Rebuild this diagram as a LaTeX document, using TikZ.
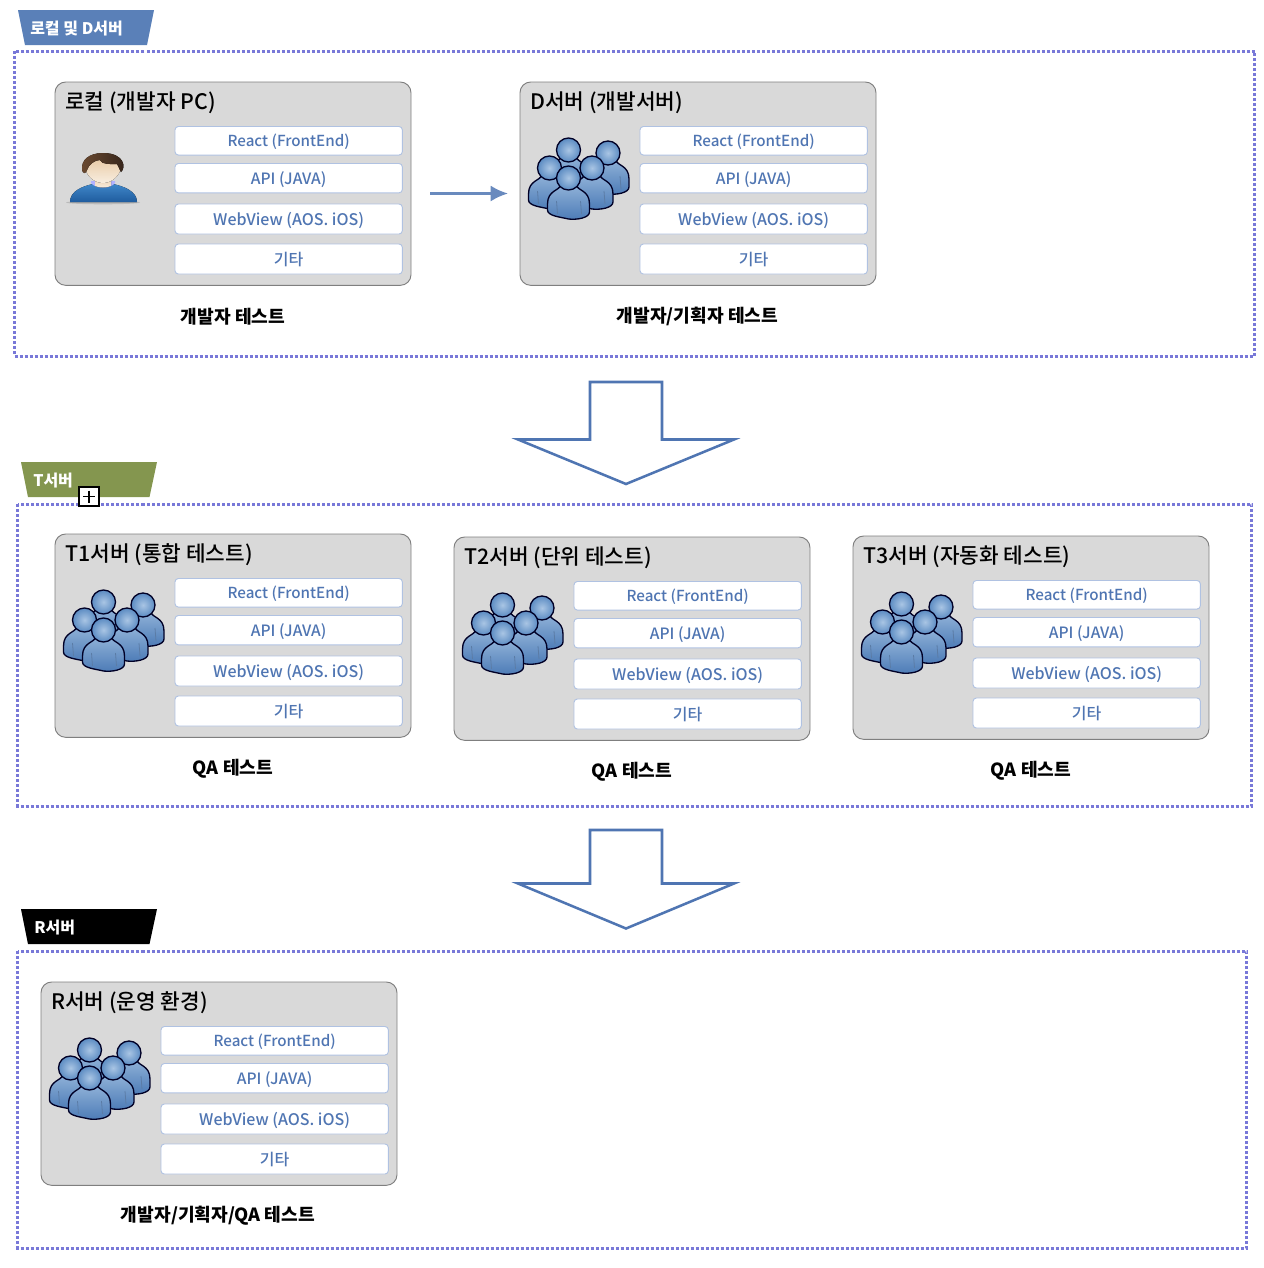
\documentclass[tikz,border=0pt]{standalone}
\usepackage{fontspec}
\usetikzlibrary{arrows.meta}
\setmainfont{Noto Sans CJK KR}
\newfontfamily\medfont{Noto Sans CJK KR Medium}
\definecolor{linkblue}{HTML}{4F75B2}
\definecolor{tabblue}{HTML}{5A80B8}
\definecolor{tabgreen}{HTML}{84964F}
\definecolor{framedot}{HTML}{7878D8}
\definecolor{boxgray}{HTML}{D9D9D9}
\definecolor{boxedge}{HTML}{7F7F7F}
\definecolor{layeredge}{HTML}{B0C2E2}
\definecolor{headlight}{HTML}{A9C5E4}
\definecolor{headedge}{HTML}{5B8BC2}
\definecolor{bodytop}{HTML}{8FB1D8}
\definecolor{bodydark}{HTML}{4C7BB6}
\definecolor{solotop}{HTML}{3F86C8}
\definecolor{solobottom}{HTML}{1F5C9E}
\definecolor{hairtop}{HTML}{6B4A30}
\definecolor{hairdark}{HTML}{35241A}
\definecolor{facetop}{HTML}{E6C49C}
\definecolor{facelow}{HTML}{F8EEE0}
\tikzset{
  x=0.75pt,y=-0.75pt,
  frame/.style={draw=framedot,line width=2.25pt,dash pattern=on 2.25pt off 1.5pt},
  tab/.style={inner sep=0pt,anchor=west,text=white,font=\fontsize{12}{14}\selectfont\bfseries},
  server/.style={draw=boxedge,fill=boxgray,line width=0.7pt,rounded corners=8pt,anchor=north west,minimum width=267pt,minimum height=152.5pt,inner sep=0pt,outer sep=0pt},
  servertitle/.style={anchor=west,inner sep=0pt,font=\fontsize{16}{18}\selectfont\medfont,text=black},
  layer/.style={draw=layeredge,fill=white,line width=0.7pt,rounded corners=2.5pt,anchor=north west,minimum width=170.5pt,inner sep=0pt,outer sep=0pt,text=linkblue,text height=9pt,text depth=0pt,font=\fontsize{12}{14}\selectfont\medfont},
  caption/.style={inner sep=0pt,font=\fontsize{13.6}{15}\selectfont\bfseries,text=black},
  bigarrow/.style={draw=linkblue,fill=white,line width=1.9pt,line join=miter},
  flow/.style={draw=linkblue!85!white,line width=1.8pt,-{Latex[length=13pt,width=12pt]}},
  personline/.style={draw=black!85!blue,line width=1pt},
}
\newcommand{\grpperson}[2]{%
  \begin{scope}[shift={(#1,#2)}]
    \draw[personline,top color=bodytop,bottom color=bodydark]
      (-8,7) .. controls (-9,13) and (-21,12) .. (-21,26) -- (-21,32)
      .. controls (-21,38) and (-8,39) .. (0,41)
      .. controls (8,42) and (21,40) .. (21,34) -- (21,26)
      .. controls (21,12) and (9,13) .. (8,7) -- cycle;
    \draw[draw=bodydark!70!gray,line width=0.6pt] (-12,23) -- (-11,36) (12,23) -- (13,36);
    \draw[personline,inner color=headlight,outer color=headedge] (0,0) circle[radius=12];
  \end{scope}}
\newcommand{\crowd}[2]{%
  \begin{scope}[shift={(#1,#2)}]
    \grpperson{48.5}{68}\grpperson{88}{71}\grpperson{29.5}{86}\grpperson{72}{86}\grpperson{48.5}{96}
  \end{scope}}
\newcommand{\soloperson}[2]{%
  \begin{scope}[shift={(#1,#2)}]
    \fill[black!45,opacity=.4] (48,120.5) ellipse[x radius=37,y radius=1.8];
    \fill[top color=solotop,bottom color=solobottom] (15,120) .. controls (15,109) and (28,104) .. (38,102) -- (58,102) .. controls (68,104) and (82,109) .. (82,120) -- cycle;
    \fill[white!70!blue] (36,101) .. controls (40,107) and (56,107) .. (60,101) -- (60,99) -- (36,99) -- cycle;
    \fill[top color=facetop,bottom color=facelow] (40,92) -- (56,92) -- (56,104) .. controls (52,106) and (44,106) .. (40,104) -- cycle;
    \fill[top color=facetop,bottom color=facelow] (30,84) .. controls (30,72) and (66,72) .. (66,84) .. controls (66,92) and (58,101) .. (48,101) .. controls (38,101) and (30,92) .. (30,84) -- cycle;
    \fill[left color=hairtop,right color=hairdark] (48,71) .. controls (34,71) and (26,78) .. (27,88) .. controls (28,92) and (31,92) .. (32,88) .. controls (34,82) and (40,78) .. (45,78) .. controls (47,83) and (56,82) .. (62,82) .. controls (64,85) and (65,89) .. (66,90) .. controls (71,86) and (70,71) .. (48,71) -- cycle;
  \end{scope}}
\newcommand{\serverbox}[4]{%
  \begin{scope}[shift={(#2,#3)}]
    \node[server] (#1) at (0,0) {};
    \node[servertitle] (#1title) at (10,20.5) {#4};
    \node[layer,minimum height=21.4pt,font=\fontsize{11.4}{14}\selectfont\medfont] (#1react) at (120,44.5) {React (FrontEnd)};
    \node[layer,minimum height=22pt,font=\fontsize{11.7}{14}\selectfont\medfont] (#1api) at (120,81.5) {API (JAVA)};
    \node[layer,minimum height=22.5pt] (#1web) at (120,122) {WebView (AOS. iOS)};
    \node[layer,minimum height=22.5pt] (#1etc) at (120,162) {기타};
  \end{scope}}
\begin{document}
\begin{tikzpicture}
\useasboundingbox (0,0) rectangle (1264,1268);
% frames
\draw[frame] (14.5,51) rectangle (1254.5,356);
\draw[frame] (17.5,504) rectangle (1251.5,806);
\draw[frame] (17.5,951) rectangle (1246.5,1248);
% tabs
\fill[tabblue] (18,10) -- (154,10) -- (147,45) -- (25,45) -- cycle;
\node[tab] (tablocal) at (30,28.5) {로컬 및 D서버};
\fill[tabgreen] (21,462) -- (157,462) -- (149.5,497) -- (28,497) -- cycle;
\node[tab] (tabt) at (33,480.5) {T서버};
\fill[black] (21,909) -- (157,909) -- (149.5,944) -- (28,944) -- cycle;
\node[tab] (tabr) at (34,927.5) {R서버};
% plus marker
\draw[black,fill=white,line width=1.3pt] (79,487) rectangle (99,506);
\draw[black,line width=1pt] (83,496.5) -- (95,496.5) (89,490.5) -- (89,502.5);
% servers
\serverbox{local}{55}{82}{로컬 (개발자 PC)}
\soloperson{55}{82}
\serverbox{dev}{520}{82}{D서버 (개발서버)}
\crowd{520}{82}
\serverbox{tone}{55}{534}{T1서버 (통합 테스트)}
\crowd{55}{534}
\serverbox{ttwo}{454}{537}{T2서버 (단위 테스트)}
\crowd{454}{537}
\serverbox{tthree}{853}{536}{T3서버 (자동화 테스트)}
\crowd{853}{536}
\serverbox{real}{41}{982}{R서버 (운영 환경)}
\crowd{41}{982}
% flow arrow
\coordinate (flowstart) at (430,193.5);
\coordinate (flowend) at (508,193.5);
\draw[flow] (flowstart) -- (flowend);
% big arrows
\draw[bigarrow] (590,382) -- (662,382) -- (662,439.5) -- (734,439.5) -- (626,484) -- (518,439.5) -- (590,439.5) -- cycle;
\draw[bigarrow] (590,830) -- (662,830) -- (662,883.5) -- (734,883.5) -- (626,928.5) -- (518,883.5) -- (590,883.5) -- cycle;
% captions
\node[caption] (caplocal) at (233,316.5) {개발자 테스트};
\node[caption] (capdev) at (697.5,316.5) {개발자/기획자 테스트};
\node[caption] (capone) at (233,769) {QA 테스트};
\node[caption] (captwo) at (632,772) {QA 테스트};
\node[caption] (capthree) at (1031,771) {QA 테스트};
\node[caption] (capreal) at (218,1216) {개발자/기획자/QA 테스트};
\end{tikzpicture}
\end{document}
